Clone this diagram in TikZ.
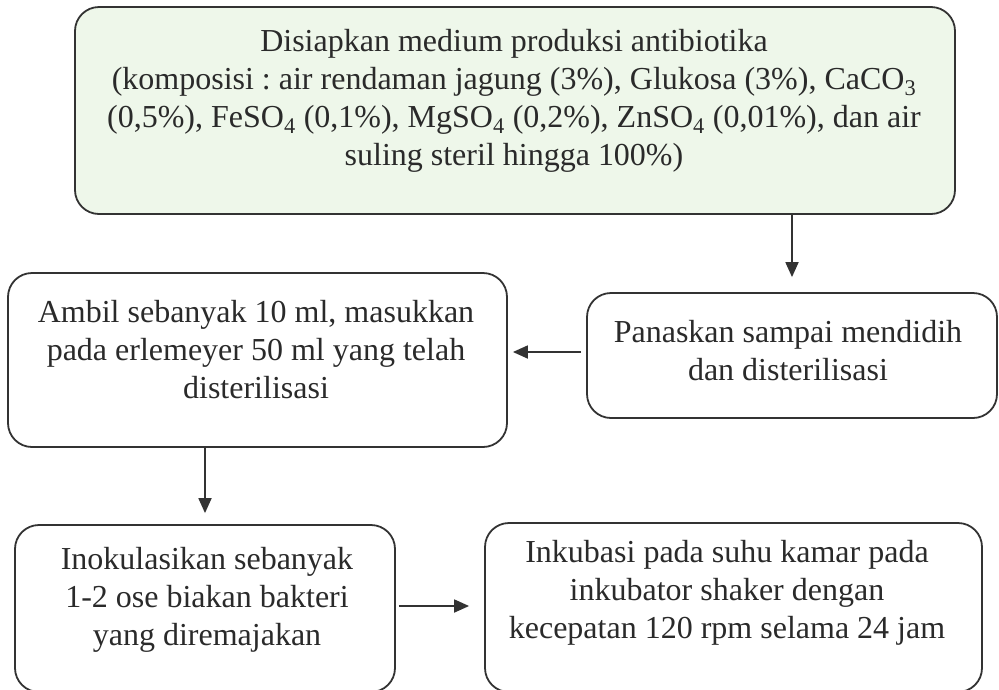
\documentclass[tikz,border=0pt]{standalone}
\usepackage{fontspec}
\setmainfont{Liberation Serif}
\usetikzlibrary{arrows.meta}
\definecolor{linec}{HTML}{333333}
\definecolor{txtc}{HTML}{2A2A2A}
\definecolor{greenbg}{HTML}{EEF7EA}
\frenchspacing
\begin{document}
\begin{tikzpicture}[x=1pt,y=-1pt,
  boxst/.style={draw=linec, line width=1.8pt, rounded corners=24pt, inner sep=0pt},
  txt/.style={align=center, text=txtc, inner sep=0pt, font=\fontsize{32}{38}\selectfont},
  arr/.style={draw=linec, line width=1.8pt, -{Triangle[length=15pt,width=13pt]}}]
\useasboundingbox (0,0) rectangle (999,689);
\begin{scope}
\clip (0,0) rectangle (999,689);
% boxes
\node[boxst, fill=greenbg, minimum width=880pt, minimum height=207pt] (B1) at (515,110.5) {};
\node[boxst, minimum width=499pt, minimum height=174pt] (B2) at (257.5,360) {};
\node[boxst, minimum width=410pt, minimum height=125pt] (B3) at (792,355.5) {};
\node[boxst, minimum width=380pt, minimum height=167pt] (B4) at (205,608.5) {};
\node[boxst, minimum width=497pt, minimum height=169pt] (B5) at (733.5,607.5) {};
% texts
\node[txt] (T1) at (514,101) {Disiapkan medium produksi antibiotika\\(komposisi : air rendaman jagung (3\%), Glukosa (3\%), CaCO\textsubscript{3}\\(0,5\%), FeSO\textsubscript{4} (0,1\%), MgSO\textsubscript{4} (0,2\%), ZnSO\textsubscript{4} (0,01\%), dan air\\suling steril hingga 100\%)};
\node[txt] (T2) at (256,350) {Ambil sebanyak 10 ml, masukkan\\pada erlemeyer 50 ml yang telah\\disterilisasi};
\node[txt] (T3) at (788,351) {Panaskan sampai mendidih\\dan disterilisasi};
\node[txt] (T4) at (207,600) {Inokulasikan sebanyak\\1-2 ose biakan bakteri\\yang diremajakan};
\node[txt] (T5) at (727,593) {Inkubasi pada suhu kamar pada\\inkubator shaker dengan\\kecepatan 120 rpm selama 24 jam};
% connectors
\draw[arr, shorten >=15pt] (B1.south -| B3.north) -- (B3.north);
\draw[arr, shorten <=5pt, shorten >=5pt] ([yshift=3.5pt]B3.west) -- ([yshift=3.5pt]B3.west -| B2.east);
\draw[arr, shorten >=11pt] (B2.south -| B4.north) -- (B4.north);
\draw[arr, shorten <=3pt, shorten >=15pt] ([yshift=2.5pt]B4.east) -- ([yshift=2.5pt]B4.east -| B5.west);
\end{scope}
\end{tikzpicture}
\end{document}
